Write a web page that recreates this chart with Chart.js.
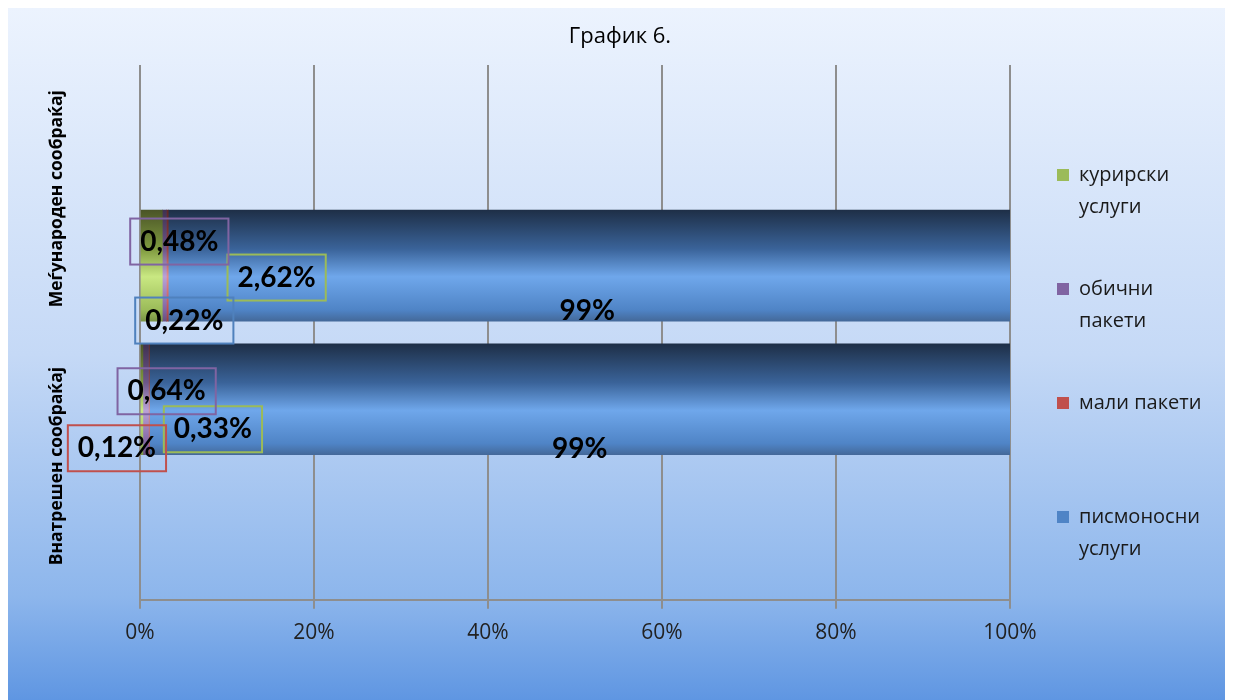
<!DOCTYPE html>
<html>
<head>
<meta charset="utf-8">
<script src="https://cdn.jsdelivr.net/npm/chart.js@4"></script>
<style>
  body { margin: 0; background: #fff; }
  #wrap { width: 1233px; height: 700px; }
</style>
</head>
<body>
<div id="wrap"><canvas id="chart"></canvas></div>
<script>
const categories = ['Меѓународен сообраќај', 'Внатрешен сообраќај'];
const seriesNames = ['курирски услуги', 'обични пакети', 'мали пакети', 'писмоносни услуги'];
const kurirski = [2.62, 0.33];
const obicni = [0.48, 0.64];
const mali = [0.22, 0.12];
const pismonosni = [99, 99];
const tickLabels = ['0%', '20%', '40%', '60%', '80%', '100%'];
const chartTitle = 'График 6.';

const seriesValues = [kurirski, obicni, mali, pismonosni];
const totals = categories.map((c, j) => seriesValues.reduce((s, arr) => s + arr[j], 0));

// bar shading: top dark -> light band -> base colour
const palettes = [
  ['#4a5427', '#7f9a3f', '#c9e882', '#9bbb59', '#7a9446'],
  ['#3f3151', '#6c5689', '#b9a2d8', '#8064a2', '#67507f'],
  ['#5e2726', '#9a403d', '#e48e8b', '#c0504d', '#993f3d'],
  ['#1e2f47', '#3a6399', '#6fa7eb', '#4f84c6', '#44699a'],
];
const stops = [0, 0.35, 0.6, 0.9, 1];
const barSize = 111;

// label placement relative to segment centre: [dx, dy, box colour]
const labelPlacement = [
  [[125, 12, '#9bbb59'], [71, 30, '#9bbb59']],
  [[15, -24, '#8064a2'], [21, -8, '#8064a2']],
  [[17, 55, '#4f81bd'], [-32, 49, '#c0504d']],
  [[-2, 45, null], [0, 50, null]],
];

function barFill(i) {
  return function (ctx) {
    const chart = ctx.chart;
    if (!chart.chartArea || ctx.type !== 'data') return palettes[i][3];
    const y = chart.scales.y.getPixelForValue(ctx.dataIndex);
    const g = chart.ctx.createLinearGradient(0, y - barSize / 2, 0, y + barSize / 2);
    stops.forEach((s, k) => g.addColorStop(s, palettes[i][k]));
    return g;
  };
}

const extras = {
  id: 'extras',
  beforeDraw(chart) {
    const c = chart.ctx;
    c.save();
    c.fillStyle = '#fff';
    c.fillRect(0, 0, chart.width, chart.height);
    const g = c.createLinearGradient(0, 8, 0, chart.height);
    g.addColorStop(0, '#ecf3fe');
    g.addColorStop(0.5, '#c5d9f6');
    g.addColorStop(0.85, '#8db6ec');
    g.addColorStop(1, '#5f96e2');
    c.fillStyle = g;
    c.fillRect(8, 8, chart.width - 16, chart.height - 8);
    c.fillStyle = '#000';
    c.font = '22px "Open Sans"';
    c.textAlign = 'center';
    c.textBaseline = 'middle';
    c.fillText(chartTitle, 620, 37);
    c.restore();
  },
  afterDatasetsDraw(chart) {
    const c = chart.ctx;
    c.save();
    // data labels
    c.font = 'bold 28px Lato';
    c.textAlign = 'center';
    c.textBaseline = 'middle';
    seriesValues.forEach((vals, i) => {
      const meta = chart.getDatasetMeta(i);
      vals.forEach((v, j) => {
        const bar = meta.data[j + 1];
        const [dx, dy, box] = labelPlacement[i][j];
        const cx = (bar.x + bar.base) / 2 + dx;
        const cy = bar.y + dy;
        const text = String(v).replace('.', ',') + '%';
        if (box) {
          const w = c.measureText(text).width + 20;
          c.strokeStyle = box;
          c.lineWidth = 2;
          c.strokeRect(cx - w / 2, cy - 23, w, 46);
        }
        c.fillStyle = '#000';
        c.fillText(text, cx, cy);
      });
    });
    // category labels (rotated)
    const yc = chart.scales.yc;
    c.font = 'bold 17.5px "Open Sans"';
    categories.forEach((name, j) => {
      c.save();
      c.translate(57, yc.getPixelForValue(j));
      c.rotate(-Math.PI / 2);
      c.fillStyle = '#000';
      c.fillText(name, 0, 0);
      c.restore();
    });
    // legend on the right
    c.font = '20px "Open Sans"';
    c.textAlign = 'left';
    seriesNames.forEach((name, i) => {
      const top = 175 + i * 114;
      const lines = name.length > 11 ? name.split(' ') : [name];
      c.fillStyle = palettes[i][3];
      c.fillRect(1057, top - 6, 12, 12);
      c.fillStyle = '#1a1a1a';
      lines.forEach((ln, k) => c.fillText(ln, 1079, top + k * 32));
    });
    c.restore();
  }
};

new Chart(document.getElementById('chart'), {
  type: 'bar',
  data: {
    labels: ['', ...categories, ''],
    datasets: seriesValues.map((vals, i) => ({
      label: seriesNames[i],
      data: [null, ...vals.map((v, j) => v / totals[j] * 100), null],
      backgroundColor: barFill(i),
      borderWidth: 0,
      barThickness: barSize,
      xAxisID: 'x',
      yAxisID: 'y',
    })),
  },
  options: {
    indexAxis: 'y',
    responsive: true,
    maintainAspectRatio: false,
    animation: false,
    layout: { padding: { left: 140, right: 223, top: 65, bottom: 42 } },
    plugins: {
      legend: { display: false },
      tooltip: { enabled: false },
      title: { display: false },
    },
    scales: {
      x: {
        stacked: true,
        min: 0,
        max: 100,
        position: 'bottom',
        ticks: {
          stepSize: 20,
          padding: 12,
          color: '#222',
          font: { family: 'Open Sans', size: 21 },
          callback: (v) => tickLabels[v / 20],
        },
        grid: { color: '#8e8e8e', lineWidth: 2, tickLength: 9 },
        border: { color: '#8e8e8e', width: 2 },
      },
      y: { stacked: true, display: false },
      yc: { type: 'category', labels: categories, display: false, position: 'left', offset: true },
    },
  },
  plugins: [extras],
});
</script>
</body>
</html>
